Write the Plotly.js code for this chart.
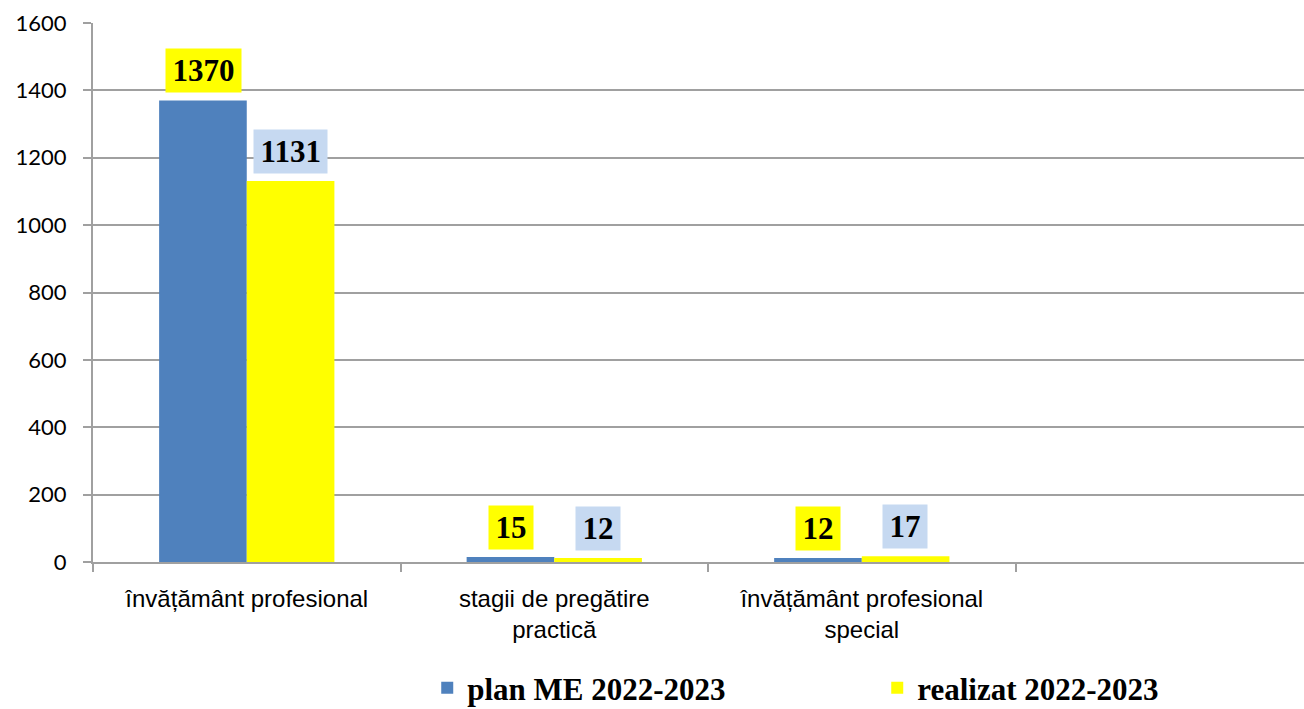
<!DOCTYPE html>
<html>
<head>
<meta charset="utf-8">
<script src="https://cdn.plot.ly/plotly-3.0.1.min.js"></script>
<style>html,body{margin:0;padding:0;background:#fff;}#chart{width:1304px;height:709px;}</style>
</head>
<body>
<div id="chart"></div>
<script>
const categories = ["învățământ profesional", "stagii de pregătire<br>practică", "învățământ profesional<br>special"];
const planValues = [1370, 15, 12];
const realizatValues = [1131, 12, 17];
const seriesNames = ["plan ME 2022-2023", "realizat 2022-2023"];
const yTicks = [0, 200, 400, 600, 800, 1000, 1200, 1400, 1600];

const blue = "#4f81bd", yellow = "#ffff00", lightBlue = "#c6d9f1";
const gray = "#a0a0a0";
const serif = "Liberation Serif, Times New Roman, serif";
const pad = "\u200A";

const traces = [
  {type: "bar", name: seriesNames[0], x: categories, y: planValues, marker: {color: blue}, hoverinfo: "skip"},
  {type: "bar", name: seriesNames[1], x: categories, y: realizatValues, marker: {color: yellow}, hoverinfo: "skip"}
];

const half = 0.1415;
const annotations = [];
planValues.forEach((v, i) => annotations.push({
  x: i - half, y: v, xref: "x", yref: "y", text: pad + String(v) + pad, showarrow: false,
  yanchor: "bottom", yshift: 7, bgcolor: yellow, borderpad: 4,
  font: {family: serif, size: 31, color: "#000", weight: "bold"}
}));
realizatValues.forEach((v, i) => annotations.push({
  x: i + half, y: v, xref: "x", yref: "y", text: pad + String(v) + pad, showarrow: false,
  yanchor: "bottom", yshift: 7, bgcolor: lightBlue, borderpad: 4,
  font: {family: serif, size: 31, color: "#000", weight: "bold"}
}));

const layout = {
  width: 1304, height: 709,
  margin: {l: 93, r: 0, t: 23, b: 147, autoexpand: false},
  paper_bgcolor: "#fff", plot_bgcolor: "#fff",
  barmode: "group", bargap: 0.43, bargroupgap: 0,
  showlegend: true,
  legend: {
    orientation: "h", x: 0.276, xanchor: "left", y: -0.234, yanchor: "middle",
    font: {family: serif, size: 31, color: "#000", weight: "bold"},
    entrywidth: 405, entrywidthmode: "pixels", traceorder: "normal"
  },
  xaxis: {
    type: "category", range: [-0.5, 3.438],
    tickson: "boundaries", ticks: "outside", ticklen: 8, tickwidth: 2, tickcolor: gray,
    showline: true, linecolor: gray, linewidth: 2,
    showgrid: false, ticklabelstandoff: 14,
    tickfont: {family: "Liberation Sans, Arial, sans-serif", size: 24, color: "#000"}
  },
  yaxis: {
    range: [0, 1600], tickvals: yTicks, ticktext: yTicks.map(String),
    ticks: "outside", ticklen: 8, tickwidth: 2, tickcolor: gray,
    showline: true, linecolor: gray, linewidth: 2,
    showgrid: true, gridcolor: gray, gridwidth: 2, zeroline: false,
    ticklabelstandoff: 12,
    tickfont: {family: "Lato, Calibri, sans-serif", size: 22, color: "#000"}
  },
  annotations: annotations
};

Plotly.newPlot("chart", traces, layout, {staticPlot: true, displayModeBar: false});
</script>
</body>
</html>
